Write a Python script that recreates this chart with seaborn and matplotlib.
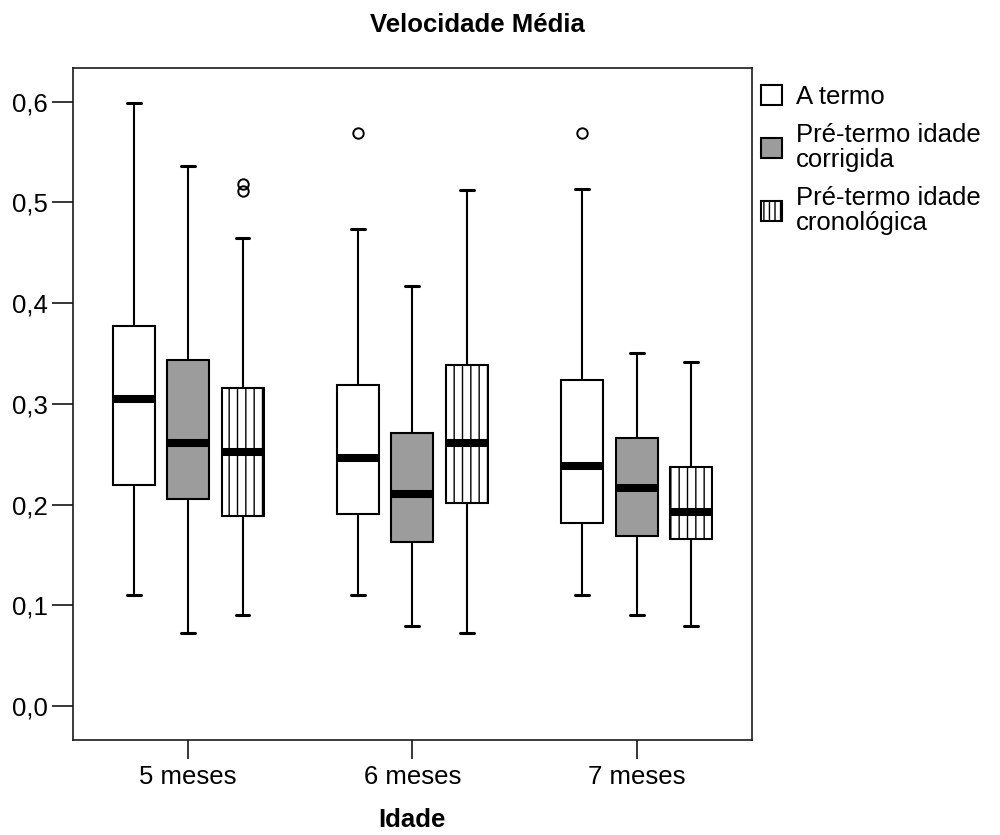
import numpy as np
import pandas as pd
import matplotlib
matplotlib.use("Agg")
import matplotlib.pyplot as plt
from matplotlib.patches import Patch
import seaborn as sns

# Idades (eixo x) e grupos (legenda)
idade = ["5 meses", "6 meses", "7 meses"]
grupos = ["A termo", "Pré-termo idade corrigida", "Pré-termo idade cronológica"]
legenda = ["A termo", "Pré-termo idade\ncorrigida", "Pré-termo idade\ncronológica"]

# Resumo de cada caixa: bigode inferior, Q1, mediana, Q3, bigode superior, outliers
a_termo_min = [0.110, 0.110, 0.110]
a_termo_q1 = [0.220, 0.191, 0.182]
a_termo_med = [0.305, 0.246, 0.238]
a_termo_q3 = [0.377, 0.319, 0.324]
a_termo_max = [0.599, 0.474, 0.513]
a_termo_out = [[], [0.569], [0.569]]

corrigida_min = [0.073, 0.080, 0.091]
corrigida_q1 = [0.206, 0.163, 0.169]
corrigida_med = [0.261, 0.211, 0.217]
corrigida_q3 = [0.344, 0.271, 0.266]
corrigida_max = [0.536, 0.417, 0.351]
corrigida_out = [[], [], []]

crono_min = [0.091, 0.073, 0.080]
crono_q1 = [0.189, 0.202, 0.166]
crono_med = [0.252, 0.261, 0.193]
crono_q3 = [0.316, 0.339, 0.237]
crono_max = [0.465, 0.512, 0.342]
crono_out = [[0.511, 0.518], [], []]

resumos = {
    grupos[0]: (a_termo_min, a_termo_q1, a_termo_med, a_termo_q3, a_termo_max, a_termo_out),
    grupos[1]: (corrigida_min, corrigida_q1, corrigida_med, corrigida_q3, corrigida_max, corrigida_out),
    grupos[2]: (crono_min, crono_q1, crono_med, crono_q3, crono_max, crono_out),
}

# Tabela longa para o seaborn: cada caixa vira uma amostra cujos quartis
# reproduzem exatamente os valores lidos (Q1, mediana e Q3 repetidos 3x)
linhas = []
for g, (lo, q1, md, q3, hi, out) in resumos.items():
    for i, cat in enumerate(idade):
        amostra = [lo[i]] + [q1[i]] * 3 + [md[i]] * 3 + [q3[i]] * 3 + [hi[i]] + list(out[i])
        for v in amostra:
            linhas.append({"Idade": cat, "Grupo": g, "Velocidade": v})
df = pd.DataFrame(linhas)

sns.set_style("white")
plt.rcParams["font.family"] = ["Liberation Sans", "DejaVu Sans"]
plt.rcParams["hatch.linewidth"] = 1.0
plt.rcParams["text.color"] = "black"
plt.rcParams["axes.labelcolor"] = "black"
plt.rcParams["xtick.color"] = "black"
plt.rcParams["ytick.color"] = "black"

fs = 18.5

fig = plt.figure(figsize=(10, 8.35), dpi=100)
ax = fig.add_axes([0.0727, 0.1138, 0.679, 0.8048])

sns.boxplot(
    data=df, x="Idade", y="Velocidade", hue="Grupo",
    order=idade, hue_order=grupos,
    palette=["white", "#9c9c9c", "white"],
    linecolor="black", linewidth=1.5,
    width=0.727, gap=0.228, whis=1.5,
    medianprops=dict(linewidth=5.8, color="black"),
    capprops=dict(linewidth=2.2),
    flierprops=dict(marker="o", markerfacecolor="none", markeredgecolor="black",
                    markersize=7.5, markeredgewidth=1.4),
    capwidths=0.062,
    legend=False, ax=ax,
)

# hachura vertical no terceiro grupo
for k, p in enumerate(ax.patches):
    if k // len(idade) == 2:
        p.set_hatch("||")
        p.set_edgecolor("black")

ax.set_xlim(-0.515, 2.513)
ax.set_ylim(-0.0335, 0.6335)
yt = [0.0, 0.1, 0.2, 0.3, 0.4, 0.5, 0.6]
ax.set_yticks(yt, [f"{v:.1f}".replace(".", ",") for v in yt])
ax.tick_params(axis="y", direction="out", length=15, width=1.1, pad=2.7,
               labelsize=fs, colors="black", left=True)
ax.tick_params(axis="x", direction="out", length=13.7, width=1.1, pad=4,
               labelsize=fs, colors="black", bottom=True)
for s in ax.spines.values():
    s.set_color("#1a1a1a")
    s.set_linewidth(1.2)

ax.set_ylabel("")
ax.set_xlabel("Idade", fontsize=fs, fontweight="bold")
ax.xaxis.label.set_va("baseline")
ax.xaxis.set_label_coords(0.5, -0.129)

fig.text(0.477, 0.9617, "Velocidade Média", ha="center", va="baseline",
         fontsize=fs, fontweight="bold")

handles = [
    Patch(facecolor="white", edgecolor="black", linewidth=1.5),
    Patch(facecolor="#9c9c9c", edgecolor="black", linewidth=1.5),
    Patch(facecolor="white", edgecolor="black", linewidth=1.5, hatch="|||"),
]
leg = ax.legend(handles, legenda, loc="upper left",
                bbox_to_anchor=(0.761, 1 - 85 / 835), bbox_transform=fig.transFigure,
                frameon=False, borderpad=0, borderaxespad=0, fontsize=fs,
                handlelength=0.8, handleheight=0.8, handletextpad=0.55,
                labelspacing=0.55)
for t in leg.get_texts():
    t.set_linespacing(1.05)

fig.savefig("out.png", dpi=100)
